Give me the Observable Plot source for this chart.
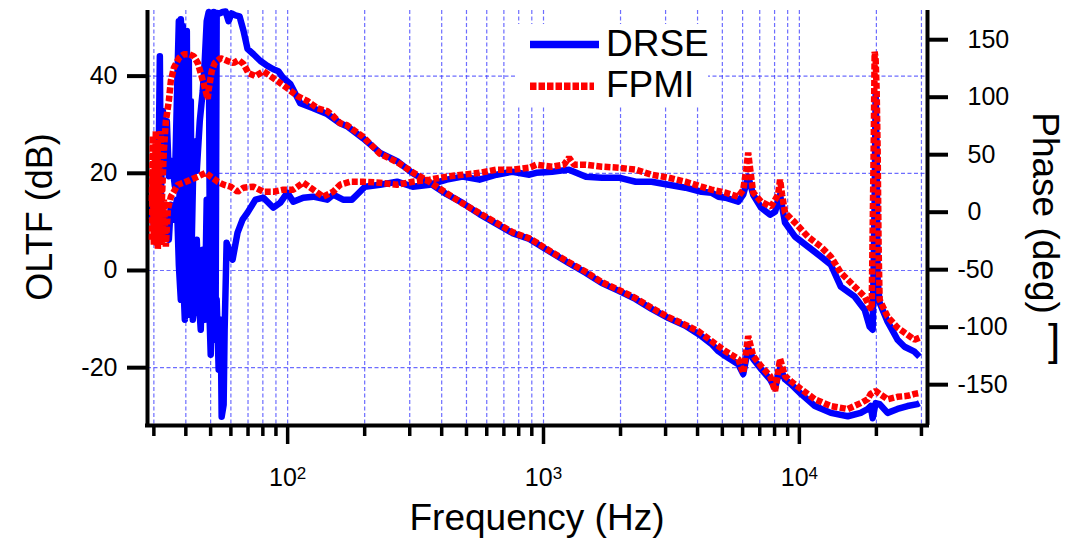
<!DOCTYPE html>
<html>
<head>
<meta charset="utf-8">
<script src="https://cdn.jsdelivr.net/npm/d3@7"></script>
<script src="https://cdn.jsdelivr.net/npm/@observablehq/plot@0.6"></script>
<style>
html, body { margin: 0; padding: 0; background: #fff; }
#chart { position: relative; width: 1067px; height: 538px; overflow: hidden; font-family: "Liberation Sans", Arial, sans-serif; }
#chart svg { position: absolute; left: 0; top: 0; }
</style>
</head>
<body>
<div id="chart"></div>
<script>
// ---------- data ----------
const seriesNames = ["DRSE", "FPMI"];
const seriesColors = ["#0000ff", "#ff0000"];

const drseGainFreq = [29.47,30.0,30.54,31.10,31.66,31.95,32.53,33.12,33.72,34.33,35.27,36.23,37.22,37.56,37.87,38.24,38.58,38.93,39.28,39.64,40.00,40.36,40.72,41.09,41.41,41.83,42.16,42.97,44.14,45.34,46.57,47.42,48.27,49.15,49.55,50.04,50.94,51.40,52.29,52.80,54.24,55.71,57.23,58.78,60.38,62.58,64.86,67.23,69.68,73.53,78.29,83.35,87.95,91.98,96.19,102.4,112.0,125.9,142.7,160.4,170.6,197.2,229.8,267.7,308.1,358.9,418.2,482.6,562.3,655.1,755.5,880.4,936.5,1081,1258,1465,1691,1969,2293,2646,3081,3588,4142,4531,4825,5135,5770,6034,6309,6600,7088,7685,8036,8405,8790,9275,10144,11502,13276,15460,17366,18497,18997,19341,19866,20592,22122,24195,26468,28944,29466];
const drseGain = [13.3,9.1,15.3,8.1,44.1,14.3,32.8,20.5,30.7,19.4,22.5,17.4,43.1,51.3,4.1,51.7,47.3,50.3,-0.1,47.2,-6.2,49.3,10.0,43.1,-2.1,34.9,5.0,26.6,20.5,30.7,36.9,43.1,51.3,53.2,14.4,53.0,-12.5,53.2,-10.0,53.0,52.9,53.2,53.3,51.3,52.9,52.5,52.3,49.3,45.6,44.5,43.1,42.1,41.4,41.0,39.6,38.4,34.4,33.4,32.2,30.3,29.7,27.2,24.2,22.5,20.0,18.0,15.7,13.9,11.6,9.6,7.7,6.5,5.6,3.6,1.5,-0.5,-2.6,-4.2,-5.9,-7.9,-9.8,-11.4,-13.5,-15.1,-16.6,-17.6,-19.3,-21.3,-16.0,-18.2,-20.3,-22.4,-24.2,-20.1,-22.4,-23.4,-25.4,-27.9,-29.3,-30.0,-29.3,-28.5,-27.9,-30.4,-27.3,-27.5,-29.3,-28.5,-27.9,-27.5,-27.3];

const fpmiGainFreq = [29.47,29.73,30.0,30.54,30.82,31.10,31.38,31.95,32.24,32.82,33.42,34.33,34.95,35.91,37.56,39.28,41.09,42.97,44.54,45.75,46.99,48.71,49.15,50.49,51.86,54.73,58.25,61.47,64.28,67.23,70.31,74.86,80.42,85.62,91.16,99.70,109.0,119.3,130.5,142.7,150.6,160.4,170.6,197.2,229.8,267.7,308.1,358.9,418.2,482.6,562.3,655.1,755.5,880.4,936.5,1081,1258,1465,1691,1969,2293,2646,3081,3588,4032,4531,5135,5770,6034,6309,6600,7088,7685,8036,8405,8790,9275,10144,11502,13276,15460,17366,18497,18997,19866,20592,22122,24195,26468,28179,29466];
const fpmiGain = [14.3,27.7,8.1,28.7,5.0,26.6,10.2,28.7,14.3,24.6,30.7,34.9,39.0,41.7,43.7,44.5,44.5,44.1,42.7,40.6,38.4,35.3,37.3,41.0,42.7,43.7,43.1,42.7,43.3,42.5,40.6,40.0,41.0,40.0,39.0,37.5,35.9,34.9,33.4,32.8,31.8,30.3,29.9,27.5,24.0,22.3,20.2,18.2,15.9,13.8,11.8,9.8,7.9,6.6,5.8,3.7,1.7,-0.3,-2.4,-4.0,-5.7,-7.7,-9.6,-11.2,-12.5,-14.5,-16.6,-18.2,-21.1,-13.5,-17.6,-19.7,-21.7,-24.8,-18.2,-21.7,-22.8,-24.4,-26.5,-27.9,-28.5,-27.3,-26.5,-25.4,-24.8,-25.4,-26.5,-26.0,-25.8,-25.4,-25.2];

const drsePhaseFreq = [29.47,30.0,30.54,31.10,31.66,32.24,32.82,33.42,34.33,34.95,35.91,36.89,37.56,38.24,38.93,39.64,40.36,41.09,41.83,42.59,43.36,44.14,44.94,45.75,46.57,47.42,48.27,49.15,50.04,50.94,51.86,52.80,53.75,54.73,55.22,56.21,56.72,57.74,59.31,60.92,63.71,66.63,69.68,74.86,80.42,87.95,93.65,99.70,105.2,115.1,125.9,142.7,150.6,164.6,178.4,186.6,200.5,229.8,267.7,308.1,358.9,418.2,482.6,562.3,655.1,755.5,880.4,936.5,1081,1258,1465,1691,1969,2293,2646,3081,3588,4142,4531,4825,5135,5770,6034,6309,6600,7088,7685,8036,8405,8790,9615,10802,12137,13276,14521,16460,18000,18830,19341,19690,19866,20046,20226,20592,22122,24195,25767,28179,29466];
const drsePhase = [-6.5,10.9,-23.9,6.5,-15.2,6.5,-19.6,-2.2,-23.9,6.5,-6.5,10.9,-45.7,-76.1,-50.0,-93.5,10.9,-89.1,6.5,-93.5,-76.1,-23.9,-76.1,-102.2,-32.6,-93.5,10.9,-67.4,-123.9,-15.2,-110.9,-76.1,-137.0,-93.5,-177.8,-167.4,-102.2,-26.5,-34.3,-41.3,-17.8,-6.5,-0.4,10.9,12.6,3.9,8.3,17.0,9.1,12.6,13.5,10.9,15.2,10.9,10.9,15.2,22.2,23.9,26.5,22.2,23.9,28.3,30.9,28.3,32.6,35.2,32.6,34.3,35.2,37.0,30.9,30.0,30.0,26.5,26.5,23.9,21.3,17.8,17.0,13.5,12.6,9.1,15.2,30.9,15.2,3.9,-2.2,0.4,15.2,-9.1,-21.3,-30.0,-38.7,-45.7,-64.8,-73.5,-84.8,-99.6,-102.2,10.9,102.0,54.3,-58.7,-78.7,-95.2,-110.9,-117.0,-121.3,-125.7];

const fpmiPhaseFreq = [29.47,29.73,30.0,30.27,30.54,30.82,31.10,31.38,31.66,31.95,32.24,32.82,33.42,34.02,34.95,37.22,39.28,41.83,44.54,47.84,50.04,53.27,56.21,59.84,63.71,67.23,73.53,80.42,87.95,96.19,105.2,115.1,125.9,137.7,150.6,160.4,175.4,197.2,229.8,267.7,308.1,358.9,418.2,482.6,562.3,655.1,755.5,880.4,936.5,1081,1203,1258,1316,1465,1691,1969,2293,2646,3081,3588,4142,4531,5135,5770,6034,6199,6309,6427,6600,7088,7756,8255,8405,8558,8790,9615,10802,12137,13276,14521,16460,18000,18830,19167,19515,19690,19866,20046,20226,20408,20592,22122,24195,25767,28179,29466];
const fpmiPhase = [-23.9,37.0,-28.3,45.7,-23.9,32.6,-32.6,41.3,-19.6,19.6,-28.3,10.9,-30.0,2.2,13.5,23.9,25.7,28.3,30.9,34.3,30.9,26.5,23.9,22.2,17.8,21.3,22.2,17.8,17.8,19.6,19.6,25.7,19.6,13.5,17.8,23.9,26.5,26.5,25.7,23.9,26.5,28.3,30.9,32.6,34.3,37.0,37.0,38.7,41.3,39.6,41.3,47.4,41.3,41.3,39.6,38.7,37.0,32.6,30.0,26.5,22.2,19.6,17.0,13.5,19.6,37.0,51.7,37.0,17.0,9.1,4.8,15.2,28.3,15.2,-0.4,-9.1,-21.3,-30.0,-38.7,-52.6,-64.8,-73.5,-82.2,-84.8,54.3,139.6,132.6,106.5,54.3,-32.6,-76.1,-90.9,-100.4,-104.8,-110.9,-109.1];

const xMajorTicks = [100, 1000, 10000];
const xMinorTicks = [30,40,50,60,70,80,90,200,300,400,500,600,700,800,900,2000,3000,4000,5000,6000,7000,8000,9000,20000,30000];
const gainTicks = [-20, 0, 20, 40];
const phaseTicks = [-150, -100, -50, 0, 50, 100, 150];

// ---------- chart ----------
const rows = (f, v) => d3.zip(f, v).map(([f, v]) => ({f, v}));
const W = 1067, H = 538;
const font = "'Liberation Sans', Arial, Helvetica, sans-serif";
const base = {
  width: W, height: H,
  marginLeft: 147, marginRight: 140, marginTop: 10, marginBottom: 113,
  style: {background: "transparent", color: "#000", fontFamily: font, overflow: "visible"}
};
const xDomain = [28.33, 31680];
const gainDomain = [-31.9, 53.5];
const phaseDomain = [-185.5, 175.4];
const gridStyle = {stroke: "#3c3cff", strokeOpacity: 0.75, strokeWidth: 1.2, strokeDasharray: "4,2.5"};
const lineOpts = (i) => ({
  x: "f", y: "v", stroke: seriesColors[i], strokeWidth: 6.5,
  strokeLinejoin: i === 1 ? "miter" : "round",
  strokeLinecap: "butt",
  strokeDasharray: i === 1 ? "6,2.2" : null
});

const layerA = Plot.plot({
  ...base,
  x: {type: "log", domain: xDomain},
  y: {domain: gainDomain},
  marks: [
    Plot.gridX([...xMinorTicks, ...xMajorTicks], gridStyle),
    Plot.gridY(gainTicks, gridStyle),
    Plot.line(rows(drseGainFreq, drseGain), lineOpts(0)),
    Plot.ruleX([xDomain[0]], {stroke: "#000", strokeWidth: 4}),
    Plot.ruleX([xDomain[1]], {stroke: "#000", strokeWidth: 4}),
    Plot.ruleY([gainDomain[0]], {stroke: "#000", strokeWidth: 4, strokeLinecap: "square"}),
    Plot.axisY(gainTicks, {anchor: "left", tickSize: 20, tickPadding: 10, strokeWidth: 4, fontSize: 25, tickFormat: d => String(d), label: null}),
    Plot.axisX(xMinorTicks, {anchor: "bottom", tickSize: 11, strokeWidth: 3.5, tickFormat: () => "", label: null}),
    Plot.axisX(xMajorTicks, {anchor: "bottom", tickSize: 19, tickPadding: 24, strokeWidth: 3.5, fontSize: 25, tickFormat: d => "10^" + Math.round(Math.log10(d)), label: null})
  ]
});

const layerB = Plot.plot({
  ...base,
  x: {type: "log", domain: xDomain, axis: null},
  y: {domain: phaseDomain, axis: null},
  marks: [Plot.line(rows(drsePhaseFreq, drsePhase), lineOpts(0))]
});

const layerC = Plot.plot({
  ...base,
  x: {type: "log", domain: xDomain, axis: null},
  y: {domain: gainDomain, axis: null},
  marks: [Plot.line(rows(fpmiGainFreq, fpmiGain), lineOpts(1))]
});

const layerD = Plot.plot({
  ...base,
  x: {type: "log", domain: xDomain, axis: null},
  y: {domain: phaseDomain},
  marks: [
    Plot.line(rows(fpmiPhaseFreq, fpmiPhase), lineOpts(1)),
    Plot.axisY(phaseTicks.filter(d => d >= 0), {anchor: "right", tickSize: 20, tickPadding: 20, strokeWidth: 4, fontSize: 25, tickFormat: d => String(d), label: null}),
    Plot.axisY(phaseTicks.filter(d => d < 0), {anchor: "right", tickSize: 20, tickPadding: 10, strokeWidth: 4, fontSize: 25, tickFormat: d => String(d), label: null})
  ]
});

// force the tick label size on every tick text (only tick labels exist at this point)
[layerA, layerD].forEach(svg => {
  svg.querySelectorAll("text").forEach(t => {
    t.style.fontSize = "25px";
    t.style.fontFamily = font;
  });
});

// superscript exponents on the decade labels
layerA.querySelectorAll("text").forEach(t => {
  const m = /^10\^(\d+)$/.exec(t.textContent);
  if (m) {
    t.textContent = "10";
    const ts = document.createElementNS("http://www.w3.org/2000/svg", "tspan");
    ts.setAttribute("dy", "-0.42em");
    ts.style.fontSize = "17px";
    ts.textContent = m[1];
    t.appendChild(ts);
  }
});

// axis titles
const sA = d3.select(layerA);
sA.append("text").attr("transform", "translate(52,217) rotate(-90)")
  .attr("text-anchor", "middle").style("font-size", "36px").attr("fill", "#000").text("OLTF (dB)");
sA.append("text").attr("transform", "translate(1033,213) rotate(90)")
  .attr("text-anchor", "middle").style("font-size", "37px").attr("fill", "#000").text("Phase (deg)");
sA.append("text").attr("x", 537).attr("y", 530)
  .attr("text-anchor", "middle").style("font-size", "37px").attr("fill", "#000").text("Frequency (Hz)");
sA.append("text").attr("x", 1054).attr("y", 355)
  .style("font-size", "44px").attr("fill", "#000").text("]");

const chart = document.getElementById("chart");
[layerA, layerB, layerC, layerD].forEach(el => chart.appendChild(el));

// legend
const leg = d3.select(chart).append("svg").attr("width", W).attr("height", H)
  .style("font-family", font);
leg.append("rect").attr("x", 515).attr("y", 24).attr("width", 193).attr("height", 82).attr("fill", "#fff");
const legY = [44.5, 86.3];
const legX2 = [599, 594];
seriesNames.forEach((name, i) => {
  leg.append("line").attr("x1", 530).attr("x2", legX2[i]).attr("y1", legY[i]).attr("y2", legY[i])
    .attr("stroke", seriesColors[i]).attr("stroke-width", 7.5)
    .attr("stroke-dasharray", i === 1 ? "6.5,2" : null);
  leg.append("text").attr("x", 606).attr("y", legY[i] + 11).style("font-size", "37px")
    .attr("fill", "#000").text(name);
});
</script>
</body>
</html>
